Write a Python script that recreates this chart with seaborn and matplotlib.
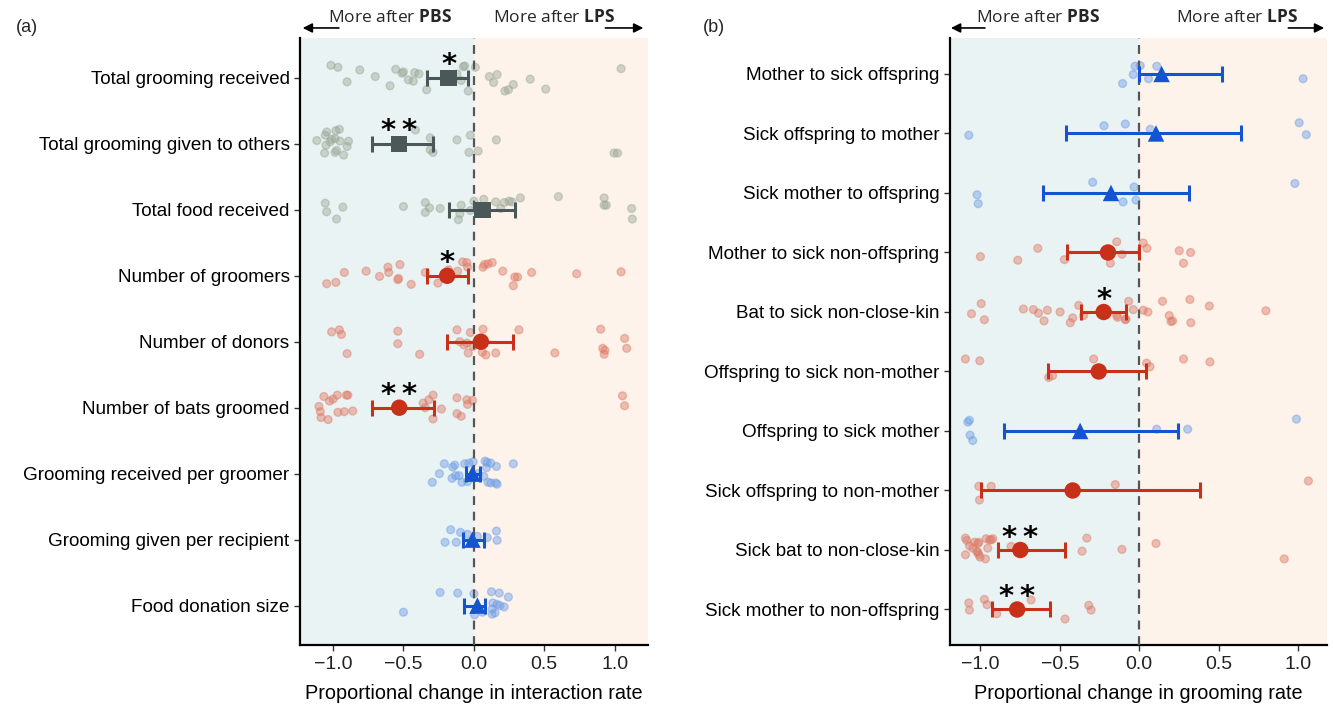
import numpy as np
import pandas as pd
import seaborn as sns
import matplotlib.pyplot as plt

# ---- panel (a) ----
a_labels = [
    "Total grooming received", "Total grooming given to others", "Total food received",
    "Number of groomers", "Number of donors", "Number of bats groomed",
    "Grooming received per groomer", "Grooming given per recipient", "Food donation size",
]
a_group = ["total", "total", "total", "count", "count", "count", "size", "size", "size"]
a_mean = [-0.18, -0.53, 0.06, -0.19, 0.05, -0.53, -0.01, -0.01, 0.025]
a_lo = [-0.33, -0.72, -0.18, -0.33, -0.19, -0.72, -0.055, -0.08, -0.07]
a_hi = [-0.04, -0.29, 0.29, -0.04, 0.28, -0.28, 0.04, 0.07, 0.08]
a_stars = ["*", "**", "", "*", "", "**", "", "", ""]

a_points = [
    [-1.015, -0.965, -0.81, -0.90, -0.70, -0.595, -0.555, -0.51, -0.50, -0.465, -0.43, -0.42, -0.39, -0.335,
     -0.12, -0.09, -0.075, -0.065, -0.04, 0.01, 0.11, 0.14, 0.165, 0.22, 0.245, 0.28, 0.40, 0.51, 1.045],
    [-1.115, -1.055, -1.045, -1.05, -1.02, -1.01, -0.985, -0.98, -0.955, -0.95, -0.975, -0.985, -0.925, -1.06,
     -0.90, -0.89, -0.415, -0.31, -0.31, -0.29, -0.12, -0.025, -0.035, 0.03, 0.16, 0.995, 1.02],
    [-1.055, -1.045, -0.975, -0.93, -0.50, -0.345, -0.345, -0.315, -0.24, -0.11, -0.10, -0.09, -0.025, 0.0,
     0.07, 0.155, 0.215, 0.25, 0.27, 0.33, 0.19, 0.60, 0.925, 0.925, 0.94, 1.12, 1.125],
    [-1.045, -0.98, -0.92, -0.765, -0.67, -0.61, -0.605, -0.525, -0.54, -0.535, -0.445, -0.345, -0.255, -0.18,
     -0.115, -0.08, -0.05, -0.045, 0.065, 0.075, 0.10, 0.13, 0.205, 0.29, 0.31, 0.28, 0.41, 0.73, 1.045],
    [-1.01, -0.955, -0.94, -0.90, -0.54, -0.54, -0.385, -0.12, -0.10, -0.07, -0.05, -0.025, -0.04, -0.005,
     0.065, 0.06, 0.085, 0.155, 0.32, 0.575, 0.90, 1.07, 0.915, 0.93, 0.925, 1.085],
    [-1.10, -1.09, -1.085, -1.035, -1.065, -1.025, -1.0, -0.97, -0.905, -0.895, -0.965, -0.92, -0.86, -0.36,
     -0.345, -0.32, -0.29, -0.23, -0.29, -0.12, -0.12, -0.09, -0.05, -0.045, -0.01, 1.055, 1.07],
    [-0.21, -0.15, -0.135, -0.245, -0.295, -0.155, -0.13, -0.105, -0.085, -0.065, -0.045, -0.035, -0.005, 0.08,
     0.095, 0.12, 0.09, 0.16, 0.28, 0.07, 0.10, 0.12, 0.155, 0.165, 0.03],
    [-0.165, -0.095, -0.205, -0.125, -0.045, 0.095, 0.16, 0.165, 0.025],
    [-0.24, -0.115, 0.0, 0.125, 0.18, 0.245, -0.50, 0.005, 0.06, 0.135, 0.165, 0.185, 0.215, 0.13, 0.13, 0.15],
]
# vertical jitter as it appears in the figure (fraction of a row)
a_jitter = [
    [-0.19, -0.16, -0.12, 0.06, -0.02, 0.12, -0.13, -0.07, -0.09, 0.03, 0.05, -0.08, -0.06, 0.18,
     -0.06, 0.04, -0.17, -0.18, 0.20, -0.16, -0.02, 0.07, -0.05, 0.20, 0.18, 0.10, 0.02, 0.17, -0.14],
    [-0.05, -0.13, -0.18, 0.02, -0.03, -0.07, -0.08, -0.20, -0.22, -0.04, 0.10, 0.13, 0.17, 0.14,
     0.04, -0.04, -0.21, -0.09, 0.09, 0.13, -0.06, -0.13, 0.13, 0.11, -0.06, 0.14, 0.14],
    [-0.10, 0.03, 0.14, -0.04, -0.05, -0.11, 0.04, -0.03, -0.02, 0.15, 0.06, -0.07, 0.01, -0.13,
     -0.16, -0.12, -0.11, -0.13, -0.12, -0.18, -0.02, -0.20, -0.18, -0.07, -0.07, -0.02, 0.14],
    [0.12, 0.10, -0.05, -0.07, 0.01, -0.13, -0.05, -0.17, 0.06, 0.04, 0.13, -0.05, 0.11, -0.09,
     -0.07, -0.21, -0.20, -0.13, -0.13, -0.17, -0.18, -0.20, -0.07, 0.02, 0.02, 0.15, -0.05, -0.03, -0.06],
    [-0.15, -0.18, -0.11, 0.18, -0.16, 0.03, 0.19, -0.18, 0.0, 0.05, 0.02, -0.14, 0.17, 0.07,
     -0.19, 0.16, 0.20, 0.17, -0.18, 0.17, -0.19, -0.05, 0.10, 0.13, 0.19, 0.10],
    [-0.02, 0.06, 0.15, 0.18, -0.17, -0.10, -0.13, -0.19, -0.19, -0.19, 0.07, 0.06, 0.05, -0.07,
     0.0, -0.12, -0.19, 0.02, 0.17, -0.15, 0.09, 0.13, -0.12, -0.05, -0.11, -0.18, -0.03],
    [-0.15, -0.10, -0.13, 0.0, 0.13, 0.07, 0.03, 0.03, 0.13, -0.15, 0.12, -0.16, -0.18, -0.19,
     -0.17, -0.16, -0.09, -0.11, -0.15, 0.04, 0.13, 0.14, 0.14, 0.16, 0.0],
    [-0.15, -0.11, 0.04, 0.04, -0.08, -0.03, -0.13, 0.01, -0.05],
    [-0.20, -0.19, -0.18, -0.21, -0.19, -0.13, 0.10, 0.14, 0.10, -0.04, -0.02, 0.0, 0.02, 0.05, 0.13, 0.11],
]

# ---- panel (b) ----
b_labels = [
    "Mother to sick offspring", "Sick offspring to mother", "Sick mother to offspring",
    "Mother to sick non-offspring", "Bat to sick non-close-kin", "Offspring to sick non-mother",
    "Offspring to sick mother", "Sick offspring to non-mother", "Sick bat to non-close-kin",
    "Sick mother to non-offspring",
]
b_group = ["size", "size", "size", "count", "count", "count", "size", "count", "count", "count"]
b_mean = [0.14, 0.105, -0.178, -0.197, -0.224, -0.255, -0.372, -0.419, -0.748, -0.768]
b_lo = [0.0, -0.46, -0.607, -0.454, -0.367, -0.572, -0.848, -0.994, -0.886, -0.927]
b_hi = [0.52, 0.64, 0.31, 0.0, -0.084, 0.042, 0.243, 0.381, -0.467, -0.561]
b_stars = ["", "", "", "", "*", "", "", "", "**", "**"]

b_points = [
    [-0.027, 0.006, 0.11, -0.038, 0.058, -0.105, 1.03],
    [-1.072, -0.222, -0.088, 0.069, 1.005, 1.05],
    [-1.02, -1.013, -0.293, -0.033, -0.102, -0.021, 0.978],
    [-0.999, -0.764, -0.638, -0.471, -0.182, -0.142, -0.109, 0.025, 0.048, 0.251, 0.322, 0.278],
    [-1.055, -0.994, -0.974, -0.729, -0.666, -0.634, -0.599, -0.578, -0.498, -0.434, -0.419, -0.381, -0.35,
     -0.142, -0.136, -0.088, -0.084, -0.067, -0.038, 0.025, 0.054, 0.146, 0.188, 0.199, 0.209, 0.318, 0.324,
     0.44, 0.796],
    [-1.093, -1.003, -0.287, -0.57, -0.545, 0.046, 0.067, 0.278, 0.444],
    [-1.078, -1.068, -1.064, -1.047, 0.109, 0.304, 0.988],
    [-1.009, -0.931, -1.005, -0.151, 1.063],
    [-1.093, -1.084, -1.068, -1.036, -1.015, -1.009, -1.047, -1.022, -1.015, -1.009, -1.001, -0.967, -1.093,
     -0.963, -0.953, -0.942, -0.931, -0.921, -0.806, -0.33, -0.36, -0.109, 0.105, 0.911],
    [-1.072, -1.068, -0.974, -0.957, -0.896, -0.68, -0.318, -0.303, -0.467],
]
b_jitter = [
    [-0.13, -0.14, -0.13, 0.01, 0.08, 0.16, 0.08],
    [0.03, -0.13, -0.16, -0.07, -0.18, 0.02],
    [0.03, 0.18, -0.18, -0.10, 0.15, 0.12, -0.16],
    [0.07, 0.13, -0.07, 0.12, 0.18, -0.18, 0.03, -0.16, -0.07, -0.03, 0.0, 0.18],
    [0.03, -0.14, 0.13, -0.05, -0.04, 0.02, 0.15, -0.03, 0.0, 0.18, 0.10, -0.11, 0.06,
     0.06, 0.09, 0.13, 0.12, -0.18, -0.04, -0.03, 0.0, -0.18, 0.06, 0.16, 0.15, -0.21, 0.18,
     -0.10, -0.02],
    [-0.21, -0.18, -0.21, 0.10, 0.07, -0.14, -0.08, -0.21, -0.16],
    [-0.15, -0.18, 0.07, 0.16, -0.03, -0.03, -0.20],
    [-0.07, -0.07, 0.16, -0.10, -0.16],
    [-0.20, -0.16, -0.07, -0.13, -0.11, -0.13, -0.03, 0.02, 0.04, 0.08, 0.12, 0.15, 0.08,
     -0.19, -0.03, -0.17, -0.17, -0.19, -0.06, -0.20, 0.02, -0.01, -0.11, 0.15],
    [-0.11, 0.01, -0.17, -0.08, 0.07, -0.16, -0.07, 0.01, 0.16],
]

point_colors = {"total": "#9aa897", "count": "#dd7a66", "size": "#6e9de6"}
mean_colors = {"total": "#4b5858", "count": "#c9301a", "size": "#1554d1"}
mean_markers = {"total": "s", "count": "o", "size": "^"}

sns.set_theme(style="ticks")
plt.rcParams["font.family"] = ["Liberation Sans", "DejaVu Sans"]
plt.rcParams["mathtext.fontset"] = "custom"
plt.rcParams["mathtext.bf"] = "Open Sans:bold"


def draw_panel(ax, labels, group, mean, lo, hi, stars, points, jitter, xlabel, xlim):
    n = len(labels)
    ax.axvspan(xlim[0], 0, color="#eaf3f4", zorder=0, lw=0)
    ax.axvspan(0, xlim[1], color="#fdf3ea", zorder=0, lw=0)

    rows = []
    for i, (vals, jit) in enumerate(zip(points, jitter)):
        for v, j in zip(vals, jit):
            rows.append({"value": v, "ypos": i + j, "group": group[i]})
    pts = pd.DataFrame(rows)
    sns.scatterplot(data=pts, x="value", y="ypos", hue="group", palette=point_colors,
                    s=32, alpha=0.45, edgecolor="face", linewidth=1.0, legend=False, ax=ax, zorder=2)

    ax.axvline(0, color="#555555", lw=1.6, ls=(0, (4, 3)), zorder=3)

    summ = pd.DataFrame({"mean": mean, "lo": lo, "hi": hi, "group": group, "row": np.arange(n)})
    for _, r in summ.iterrows():
        ax.errorbar(r["mean"], r["row"], xerr=[[r["mean"] - r["lo"]], [r["hi"] - r["mean"]]],
                    fmt="none", ecolor=mean_colors[r["group"]], elinewidth=2.2,
                    capsize=6, capthick=2.2, zorder=4)
    sns.scatterplot(data=summ, x="mean", y="row", hue="group", style="group",
                    palette=mean_colors, markers=mean_markers, s=140, edgecolor="none",
                    legend=False, ax=ax, zorder=5)
    for i, st in enumerate(stars):
        if st:
            ax.text(mean[i], i - 0.07, "\u2009".join(st), ha="center", va="baseline", fontsize=21,
                    fontfamily="DejaVu Sans", fontweight="bold", color="black", zorder=6)

    ax.set_xlim(*xlim)
    ax.set_ylim(n - 0.4, -0.6)
    ax.set_yticks(range(n))
    ax.set_yticklabels(labels, fontsize=13.6, color="black")
    ax.set_xticks([-1.0, -0.5, 0.0, 0.5, 1.0])
    ax.set_xticklabels(["\u22121.0", "\u22120.5", "0.0", "0.5", "1.0"], fontsize=14, color="#222222")
    ax.set_xlabel(xlabel, fontsize=14.3, color="black", labelpad=8)
    ax.set_ylabel("")
    sns.despine(ax=ax)
    for sp in ["left", "bottom"]:
        ax.spines[sp].set_color("black")
        ax.spines[sp].set_linewidth(1.6)
    ax.tick_params(axis="both", length=4, width=1.0, color="#333333")


def header(ax, left_c, right_c, left_arrow, right_arrow):
    kw = dict(transform=ax.transAxes, ha="center", va="center", fontsize=12.5,
              fontfamily="Open Sans", clip_on=False)
    ax.text(left_c, 1.035, r"More after $\mathbf{PBS}$", **kw)
    ax.text(right_c, 1.035, r"More after $\mathbf{LPS}$", **kw)
    akw = dict(xycoords="axes fraction", textcoords="axes fraction",
               arrowprops=dict(arrowstyle="-|>", color="black", lw=1.2, mutation_scale=14))
    ax.annotate("", xy=(left_arrow[0], 1.017), xytext=(left_arrow[1], 1.017), **akw)
    ax.annotate("", xy=(right_arrow[1], 1.017), xytext=(right_arrow[0], 1.017), **akw)


fig = plt.figure(figsize=(13.33, 7.09), dpi=100)
ax_a = fig.add_axes([0.225, 0.09, 0.261, 0.856])
ax_b = fig.add_axes([0.7127, 0.09, 0.2828, 0.856])

draw_panel(ax_a, a_labels, a_group, a_mean, a_lo, a_hi, a_stars, a_points, a_jitter,
           "Proportional change in interaction rate", (-1.235, 1.235))
draw_panel(ax_b, b_labels, b_group, b_mean, b_lo, b_hi, b_stars, b_points, b_jitter,
           "Proportional change in grooming rate", (-1.19, 1.18))

header(ax_a, 0.26, 0.73, (0.0, 0.12), (0.87, 0.995))
header(ax_b, 0.233, 0.761, (-0.005, 0.10), (0.89, 1.0))

fig.text(0.012, 0.955, "(a)", fontsize=13)
fig.text(0.527, 0.955, "(b)", fontsize=13)

fig.savefig("out.png", dpi=100)
